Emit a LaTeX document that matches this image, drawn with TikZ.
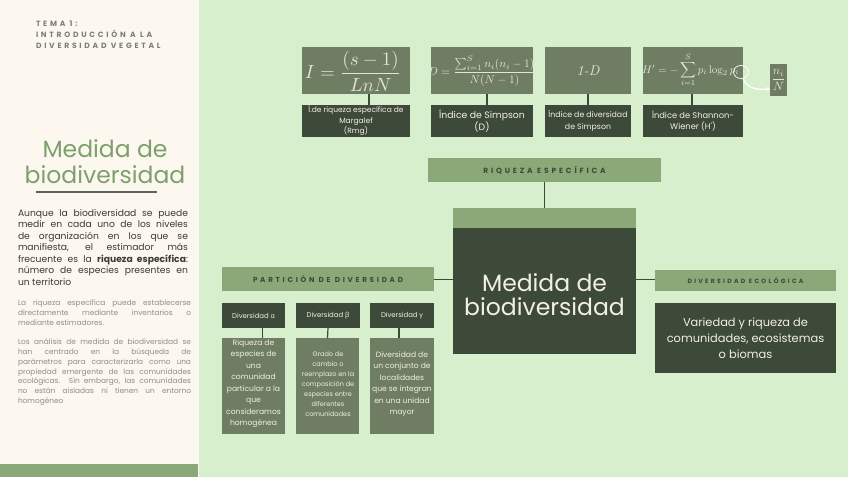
\documentclass[tikz,border=0pt]{standalone}
\usepackage{graphicx}
\usepackage{amsmath}
\usepackage{fontspec}
\usetikzlibrary{calc,arrows.meta}
\newfontfamily\mont{Poppins}
\newfontfamily\montsp{Poppins}[LetterSpace=38]
\newfontfamily\montti{Poppins}[LetterSpace=36]
\newfontfamily\grk{Open Sans}
\definecolor{cream}{HTML}{FCF7EF}
\definecolor{bgg}{HTML}{D7EFCC}
\definecolor{midg}{HTML}{8BA878}
\definecolor{grayg}{HTML}{6F7E63}
\definecolor{darkg}{HTML}{3E4A39}
\definecolor{titleg}{HTML}{7DA06C}
\definecolor{greyt}{HTML}{7B8077}
\definecolor{parat}{HTML}{3A3B35}
\definecolor{paragr}{HTML}{8E8F88}
\definecolor{lighttxt}{HTML}{F2EFE6}
\definecolor{formt}{HTML}{E4E4DA}
\begin{document}
\begin{tikzpicture}[x=1pt,y=-1pt,
  every node/.style={inner sep=0pt,outer sep=0pt},
  box/.style={anchor=north west,minimum width=#1},
  cbox/.style={fill=midg},
  gbox/.style={fill=grayg},
  dbox/.style={fill=darkg},
  conn/.style={draw=darkg,line width=1.2pt},
  sptext/.style={font=\montsp\bfseries\fontsize{#1}{8}\selectfont,text=darkg},
  boxtxt/.style 2 args={font=\mont\fontsize{#1}{#2}\selectfont,text=lighttxt,align=center},
]
\useasboundingbox (0,0) rectangle (848,477);
\fill[bgg] (0,0) rectangle (848,477);
\fill[cream] (0,0) rectangle (199,477);
\fill[midg] (0,464) rectangle (198,477);

% left panel
\node[anchor=north west,align=left,font=\montti\bfseries\fontsize{7.6}{11}\selectfont,text=greyt] (tema) at (36,20.5)
  {TEMA 1:\\INTRODUCCIÓN A LA\\DIVERSIDAD VEGETAL};
\node[align=center,font=\mont\fontsize{23.5}{26}\selectfont,text=titleg] (ltitle) at (105,162)
  {Medida de\\biodiversidad};
\draw[draw=darkg!85,line width=1.6pt] (36,192) -- (157,192);
\node[anchor=north west,font=\mont\fontsize{9.2}{11.5}\selectfont,text=parat] (p1) at (18,209)
  {\parbox{170pt}{\hyphenpenalty=10000
  Aunque la biodiversidad se puede\linebreak
  medir en cada uno de los niveles\linebreak
  de organización en los que se\linebreak
  manifiesta, el estimador más\linebreak
  frecuente es la \textbf{riqueza específica}:\linebreak
  número de especies presentes en\linebreak
  un territorio}};
\node[anchor=north west,font=\mont\fontsize{7.4}{9.8}\selectfont,text=paragr] (p2) at (18,300)
  {\parbox{173pt}{\hyphenpenalty=10000
  La riqueza específica puede establecerse\linebreak
  directamente mediante inventarios o\linebreak
  mediante estimadores.}};
\node[anchor=north west,font=\mont\fontsize{7.4}{9.8}\selectfont,text=paragr] (p3) at (18,339)
  {\parbox{173pt}{\hyphenpenalty=10000
  Los análisis de medida de biodiversidad se\linebreak
  han centrado en la búsqueda de\linebreak
  parámetros para caracterizarla como una\linebreak
  propiedad emergente de las comunidades\linebreak
  ecológicas. Sin embargo, las comunidades\linebreak
  no están aisladas ni tienen un entorno\linebreak
  homogéneo}};

% formula boxes
\node[box=108pt,minimum height=47pt,gbox] (f1) at (302,47) {};
\node[box=102pt,minimum height=47pt,gbox] (f2) at (431,47) {};
\node[box=86pt,minimum height=47pt,gbox] (f3) at (545,47) {};
\node[box=100pt,minimum height=47pt,gbox] (f4) at (643,47) {};
\node[text=formt] (m1) at (353,71) {\scalebox{1.9}{$I=\dfrac{(s-1)}{LnN}$}};
\node[text=formt] (m2) at (482,71) {\scalebox{1.15}{$D=\dfrac{\sum_{i=1}^{S} n_i(n_i-1)}{N(N-1)}$}};
\node[text=formt] (m3) at (588,71) {\scalebox{1.4}{\itshape 1-D}};
\node[text=formt,anchor=west] (m4) at (642,70) {\scalebox{1.1}{$H'=-\displaystyle\sum_{i=1}^{S} p_i\log_2 p_i$}};

\node[box=108pt,minimum height=32pt,dbox,boxtxt={7.5}{10.5}] (l1) at (302,105) {Í.de riqueza específica de\\Margalef\\(Rmg)};
\node[box=102pt,minimum height=32pt,dbox,boxtxt={9.3}{12.5}] (l2) at (431,105) {Índice de Simpson\\(D)};
\node[box=86pt,minimum height=32pt,dbox,boxtxt={7.8}{11.5}] (l3) at (545,105) {Índice de diversidad\\de Simpson};
\node[box=100pt,minimum height=32pt,dbox,boxtxt={8.3}{11.5}] (l4) at (643,105) {Índice de Shannon-\\Wiener (H')};

\draw[conn] ([xshift=13pt]f1.south) -- ([xshift=13pt]l1.north);
\draw[conn] ([xshift=5pt]f2.south) -- ([xshift=5pt]l2.north);
\draw[conn] (f3.south) -- (l3.north);
\draw[conn] ([xshift=-1pt]f4.south) -- ([xshift=-1pt]l4.north);

% n_i / N
\node[box=17pt,minimum height=32pt,gbox] (ni) at (770,64) {};
\node[text=formt] (nit) at (ni.center) {\scalebox{1.2}{$\dfrac{n_i}{N}$}};
\draw[white,line width=0.7pt] (741,72) ellipse (7.5pt and 6.5pt);
\coordinate (cb) at (743,78.5);
\draw[white,line width=1.3pt,-{Stealth[length=4pt,width=4.5pt]}] (cb) .. controls (747,88) and (756,90) .. (ni.west |- 0,89);

% riqueza especifica
\node[box=233pt,minimum height=24pt,cbox] (rq) at (428,158) {};
\node[sptext=7.5] at (rq.center) {RIQUEZA ESPECÍFICA};

% central
\node[box=183pt,minimum height=20pt,cbox] (ctop) at (453,208) {};
\node[box=183pt,minimum height=126pt,dbox] (cen) at (453,228) {};
\node[align=center,font=\mont\fontsize{23.5}{24}\selectfont,text=lighttxt] (cent) at (544.5,295) {Medida de\\biodiversidad};
\draw[conn] (rq.south) -- (ctop.north);

% particion
\node[box=212pt,minimum height=24pt,cbox] (pd) at (222,267) {};
\node[sptext=7.2] at (pd.center) {PARTICIÓN DE DIVERSIDAD};
\draw[conn] (pd.east |- 0,279.5) -- (cen.west |- 0,279.5);

% diversidad ecologica
\node[box=181pt,minimum height=21pt,cbox] (de) at (655,270) {};
\node[sptext=6.1] at (de.center) {DIVERSIDAD ECOLÓGICA};
\draw[conn] (cen.east |- 0,279.5) -- (de.west |- 0,279.5);
\node[box=181pt,minimum height=70pt,dbox] (deb) at (655,303) {};
\node[boxtxt={11.4}{16}] at (deb.center) {Variedad y riqueza de\\comunidades, ecosistemas\\o biomas};

% alpha beta gamma
\node[box=63pt,minimum height=25pt,dbox] (ha) at (222,303) {};
\node[box=64pt,minimum height=25pt,dbox] (hb) at (296,303) {};
\node[box=64pt,minimum height=25pt,dbox] (hg) at (370,303) {};
\node[boxtxt={6.9}{8}] at (ha.center) {Diversidad {\grk α}};
\node[boxtxt={6.9}{8}] at (hb.center) {Diversidad {\grk β}};
\node[boxtxt={6.9}{8}] at (hg.center) {Diversidad {\grk γ}};
\node[box=63pt,minimum height=96pt,gbox] (ba) at (222,338) {};
\node[box=63pt,minimum height=96pt,gbox] (bb) at (296,338) {};
\node[box=64pt,minimum height=96pt,gbox] (bg) at (370,338) {};
\draw[conn] ([xshift=9pt]ha.south) -- ([xshift=9pt]ba.north);
\draw[conn] (hb.south) -- (bb.north);
\draw[conn] ([xshift=-3pt]hg.south) -- ([xshift=-3pt]bg.north);
\node[boxtxt={7.6}{11.5}] at (253.5,383.5)
  {Riqueza de\\especies de\\una\\comunidad\\particular a la\\que\\consideramos\\homogénea};
\node[boxtxt={6.5}{10}] at (328,384)
  {Grado de\\cambio o\\reemplazo en la\\composición de\\especies entre\\diferentes\\comunidades};
\node[boxtxt={7.6}{11.5}] at (402,384)
  {Diversidad de\\un conjunto de\\localidades\\que se integran\\en una unidad\\mayor};
\end{tikzpicture}
\end{document}
